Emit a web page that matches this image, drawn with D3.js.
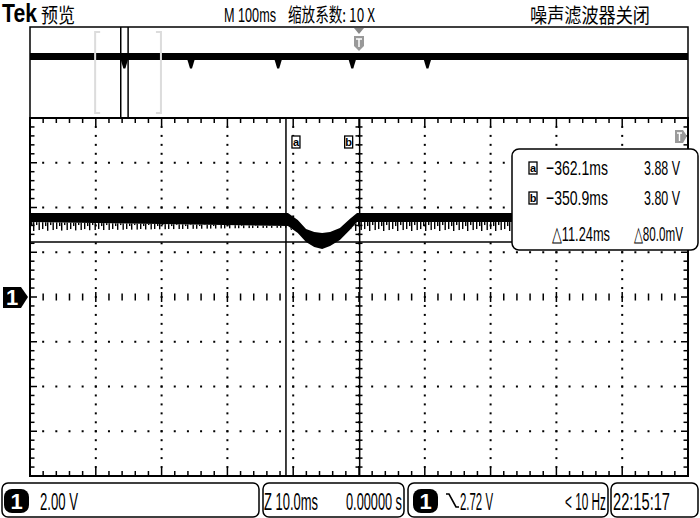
<!DOCTYPE html>
<html><head><meta charset="utf-8">
<script src="https://cdn.jsdelivr.net/npm/d3@7"></script>
<style>body{margin:0;background:#fff}svg{display:block}</style>
</head><body><svg id="c" width="700" height="518"></svg>
<script>
// ---------- data ----------
const mainTimeDomain = [-401, -301];      // ms shown on the main graticule (10 ms/div)
const voltDomain = [-8, 8];                // V, 2.00 V/div, 8 divisions
const previewTimeDomain = [-500, 500];     // ms, M 100ms x 10 div
const traceTime = [-401, -361.8, -360.3, -359.05, -357.8, -356.6, -355.4, -353.9, -352.4, -351.3, -301];
const traceTop = [3.75, 3.75, 3.44, 3.04, 2.91, 2.86, 2.91, 3.08, 3.49, 3.75, 3.75];
const traceSolidBottom = [3.35, 3.17, 2.86, 2.46, 2.23, 2.15, 2.28, 2.55, 2.99, 3.35, 3.35];
const traceFringeBottom = [2.95, 3.10, 2.80, 2.40, 2.18, 2.10, 2.22, 2.48, 2.93, 2.95, 2.95];
const previewLevel = 2.8;
const previewDipLevel = 0.7;
const previewDips = [-356.6, -255.3, -122.8, -10.2, 104];
const cursorTimes = [-362.1, -350.9];
const cursorNames = ["a", "b"];
const hCursorVolt = 2.46;
const readoutRows = [
  ["a", "\u2212362.1ms", "3.88 V"],
  ["b", "\u2212350.9ms", "3.80 V"],
  ["", "\u25B311.24ms", "\u25B380.0mV"]
];
const headerTexts = ["Tek", "预览", "M 100ms", "缩放系数: 10 X", "噪声滤波器关闭"];
const footerTexts = ["2.00 V", "Z 10.0ms", "0.00000 s", "2.72 V", "< 10 Hz", "22:15:17"];

// ---------- setup ----------
const svg = d3.select("#c");
const L = 30, R = 688, T = 118, B = 476;
const x = d3.scaleLinear().domain(mainTimeDomain).range([L, R]);
const y = d3.scaleLinear().domain(voltDomain).range([B, T]);
const px = d3.scaleLinear().domain(previewTimeDomain).range([L, R]);
const py = d3.scaleLinear().domain(voltDomain).range([118, 27]);
const FONT = "'Liberation Sans Narrow','Liberation Sans',Arial,sans-serif";
const CJK = "'Noto Sans CJK SC',sans-serif";

svg.append("rect").attr("width", 700).attr("height", 518).attr("fill", "#fff");

const defs = svg.append("defs");
const pat = defs.append("pattern").attr("id", "fr").attr("patternUnits", "userSpaceOnUse")
  .attr("x", 0).attr("y", y(3.35)).attr("width", 14).attr("height", 30);
[[0, 7], [3, 4], [5, 9], [8, 3], [10.5, 8]].forEach(([sx, h]) =>
  pat.append("rect").attr("x", sx).attr("y", 0).attr("width", 1.4).attr("height", h).attr("fill", "#000"));

// ---------- header ----------
const hdr = [
  {t: headerTexts[0], x: 2, y: 22, s: 25, w: 35, f: "'Liberation Sans',Arial,sans-serif", b: "bold"},
  {t: headerTexts[1], x: 41, y: 23, s: 20, w: 34, f: CJK, b: "normal"},
  {t: headerTexts[2], x: 224, y: 22, s: 21, w: 52, f: FONT, b: "normal"},
  {t: headerTexts[3], x: 288, y: 22, s: 19, w: 87, f: CJK, b: "normal"},
  {t: headerTexts[4], x: 530, y: 23, s: 20, w: 120, f: CJK, b: "normal"}
];
svg.selectAll("text.hdr").data(hdr).enter().append("text").attr("class", "hdr")
  .attr("x", d => d.x).attr("y", d => d.y).attr("font-size", d => d.s)
  .attr("font-family", d => d.f).attr("font-weight", d => d.b)
  .attr("textLength", d => d.w).attr("lengthAdjust", "spacingAndGlyphs").text(d => d.t);

// ---------- preview strip ----------
const pv = svg.append("g");
pv.append("rect").attr("x", L).attr("y", 27).attr("width", R - L).attr("height", 91)
  .attr("fill", "none").attr("stroke", "#000").attr("stroke-width", 1.5);
pv.append("line").attr("x1", px(previewTimeDomain[0])).attr("x2", px(previewTimeDomain[1]))
  .attr("y1", py(previewLevel)).attr("y2", py(previewLevel))
  .attr("stroke", "#000").attr("stroke-width", 7);
pv.selectAll("path.dip").data(previewDips).enter().append("path")
  .attr("d", t => `M${px(t - 7)},${py(previewLevel)}L${px(t + 7)},${py(previewLevel)}L${px(t + 1.5)},${py(previewDipLevel)}L${px(t - 1.5)},${py(previewDipLevel)}Z`)
  .attr("fill", "#000");
// zoom window brackets
mainTimeDomain.forEach((t, i) => {
  const bx = px(t), dir = i === 0 ? 1 : -1;
  pv.append("path").attr("d", `M${bx + dir * 5},32H${bx}V113H${bx + dir * 5}`)
    .attr("fill", "none").attr("stroke", "#dcdcdc").attr("stroke-width", 2);
});
// cursors in preview
pv.selectAll("line.pc").data(cursorTimes).enter().append("line")
  .attr("x1", t => px(t)).attr("x2", t => px(t)).attr("y1", 27).attr("y2", 118)
  .attr("stroke", "#000").attr("stroke-width", 1.5);
// trigger marker
const tx = px(0);
pv.append("path").attr("d", `M${tx - 5},28H${tx + 5}L${tx},34Z`).attr("fill", "#888");
pv.append("path").attr("d", `M${tx - 5},36H${tx + 5}V46L${tx},51L${tx - 5},46Z`).attr("fill", "#999");
pv.append("path").attr("d", `M${tx - 3},39H${tx + 3}M${tx},39V47`).attr("stroke", "#fff").attr("stroke-width", 1.5);

// ---------- main graticule ----------
const g = svg.append("g");
const majorT = d3.range(0, 11).map(i => mainTimeDomain[0] + i * 10);
const minorT = d3.range(0, 51).map(i => mainTimeDomain[0] + i * 2);
const majorV = d3.range(-8, 9, 2);
const minorV = d3.range(0, 41).map(i => -8 + i * 0.4);
const centerT = mainTimeDomain[0] + 50;

majorV.slice(1, -1).filter(v => v !== 0).forEach(v => {
  g.selectAll(null).data(minorT.slice(1, -1)).enter().append("rect")
    .attr("x", t => x(t) - 1).attr("y", y(v) - 1).attr("width", 2).attr("height", 2).attr("fill", "#000");
});
majorT.slice(1, -1).forEach(t => {
  g.selectAll(null).data(minorV.slice(1, -1)).enter().append("rect")
    .attr("x", x(t) - 1).attr("y", v => y(v) - 1).attr("width", 2).attr("height", 2).attr("fill", "#000");
});
g.selectAll(null).data(minorT.slice(1, -1)).enter().append("line")
  .attr("x1", t => x(t)).attr("x2", t => x(t))
  .attr("y1", (t, i) => y(0) - ((i + 1) % 5 === 0 ? 5 : 3.5)).attr("y2", (t, i) => y(0) + ((i + 1) % 5 === 0 ? 5 : 3.5))
  .attr("stroke", "#000").attr("stroke-width", 1.5);
g.selectAll(null).data(minorV.slice(1, -1)).enter().append("line")
  .attr("x1", x(centerT) - 3.5).attr("x2", x(centerT) + 3.5)
  .attr("y1", v => y(v)).attr("y2", v => y(v))
  .attr("stroke", "#000").attr("stroke-width", 1.5);
minorT.slice(1, -1).forEach((t, i) => {
  const len = (i + 1) % 5 === 0 ? 8 : 5;
  g.append("line").attr("x1", x(t)).attr("x2", x(t)).attr("y1", T).attr("y2", T + len).attr("stroke", "#000").attr("stroke-width", 1.5);
  g.append("line").attr("x1", x(t)).attr("x2", x(t)).attr("y1", B).attr("y2", B - len).attr("stroke", "#000").attr("stroke-width", 1.5);
});
minorV.slice(1, -1).forEach((v, i) => {
  const len = (i + 1) % 5 === 0 ? 7 : 4.5;
  g.append("line").attr("x1", L).attr("x2", L + len).attr("y1", y(v)).attr("y2", y(v)).attr("stroke", "#000").attr("stroke-width", 1.5);
  g.append("line").attr("x1", R).attr("x2", R - len).attr("y1", y(v)).attr("y2", y(v)).attr("stroke", "#000").attr("stroke-width", 1.5);
});
g.append("rect").attr("x", L).attr("y", T).attr("width", R - L).attr("height", B - T)
  .attr("fill", "none").attr("stroke", "#000").attr("stroke-width", 2);

// ---------- waveform ----------
const idx = d3.range(traceTime.length);
const solidArea = d3.area().x(i => x(traceTime[i])).y0(i => y(traceSolidBottom[i])).y1(i => y(traceTop[i]));
const fringeArea = d3.area().x(i => x(traceTime[i])).y0(i => y(traceFringeBottom[i])).y1(i => y(traceSolidBottom[i]));
svg.append("path").attr("d", fringeArea(idx)).attr("fill", "url(#fr)");
svg.append("path").attr("d", solidArea(idx)).attr("fill", "#000");

svg.append("line").attr("x1", L).attr("x2", R).attr("y1", y(hCursorVolt)).attr("y2", y(hCursorVolt))
  .attr("stroke", "#000").attr("stroke-width", 1.5);
svg.selectAll("line.cur").data(cursorTimes).enter().append("line")
  .attr("x1", t => x(t)).attr("x2", t => x(t)).attr("y1", T).attr("y2", B)
  .attr("stroke", "#000").attr("stroke-width", 1.5);
const tag = (gx, gy, name) => {
  svg.append("rect").attr("x", gx).attr("y", gy).attr("width", 8).attr("height", 12)
    .attr("fill", "#fff").attr("stroke", "#000").attr("stroke-width", 1.3);
  svg.append("text").attr("x", gx + 4).attr("y", gy + 10).attr("text-anchor", "middle")
    .attr("font-size", 11).attr("font-weight", "bold").attr("font-family", FONT).text(name);
};
cursorTimes.forEach((t, i) => tag(i === 0 ? x(t) + 6 : x(t) - 15, 136, cursorNames[i]));

// right trigger-level marker
svg.append("path").attr("d", "M675,130H683L687,136L683,143H675Z").attr("fill", "#9a9a9a");
svg.append("path").attr("d", "M677,133H682M679.5,133V141").attr("stroke", "#fff").attr("stroke-width", 1.4);

// channel 1 marker
svg.append("path").attr("d", `M3,${y(0) - 10}H21L28,${y(0)}L21,${y(0) + 11}H3Z`).attr("fill", "#000");
svg.append("text").attr("x", 12).attr("y", y(0) + 8).attr("text-anchor", "middle").attr("fill", "#fff")
  .attr("font-size", 22).attr("font-weight", "bold").attr("font-family", FONT).text("1");

// ---------- readout box ----------
svg.append("rect").attr("x", 512).attr("y", 149).attr("width", 186).attr("height", 101).attr("rx", 7)
  .attr("fill", "#fff").attr("stroke", "#000").attr("stroke-width", 1.5);
const rowY = [175, 205, 241];
readoutRows.forEach((r, i) => {
  if (r[0]) tag(529, rowY[i] - 13, r[0]);
  svg.append("text").attr("x", i === 2 ? 552 : 546).attr("y", rowY[i]).attr("font-size", 21)
    .attr("font-family", FONT).attr("textLength", i === 2 ? 58 : 62).attr("lengthAdjust", "spacingAndGlyphs").text(r[1]);
  svg.append("text").attr("x", i === 2 ? 634 : 644).attr("y", rowY[i]).attr("font-size", 21)
    .attr("font-family", FONT).attr("textLength", i === 2 ? 49 : 36).attr("lengthAdjust", "spacingAndGlyphs").text(r[2]);
});

// ---------- footer ----------
const boxes = [[2, 259], [263, 404], [408, 608], [611, 698]];
svg.selectAll("rect.fb").data(boxes).enter().append("rect")
  .attr("x", d => d[0]).attr("y", 483).attr("width", d => d[1] - d[0]).attr("height", 34).attr("rx", 6)
  .attr("fill", "none").attr("stroke", "#000").attr("stroke-width", 1.5);
[4, 413].forEach(bx => {
  svg.append("rect").attr("x", bx).attr("y", 489).attr("width", 25).attr("height", 24).attr("rx", 8).attr("fill", "#000");
  svg.append("text").attr("x", bx + 12.5).attr("y", 509).attr("text-anchor", "middle").attr("fill", "#fff")
    .attr("font-size", 22).attr("font-weight", "bold").attr("font-family", FONT).text("1");
});
svg.append("path").attr("d", "M446,494H449L456,507H459").attr("fill", "none").attr("stroke", "#000").attr("stroke-width", 1.6);
const foot = [[40, 38], [264, 54], [346, 56], [460, 33], [565, 41], [613, 57]];
svg.selectAll("text.ft").data(footerTexts).enter().append("text")
  .attr("x", (d, i) => foot[i][0]).attr("y", 510).attr("font-size", 23).attr("font-family", FONT)
  .attr("textLength", (d, i) => foot[i][1]).attr("lengthAdjust", "spacingAndGlyphs").text(d => d);
</script></body></html>
